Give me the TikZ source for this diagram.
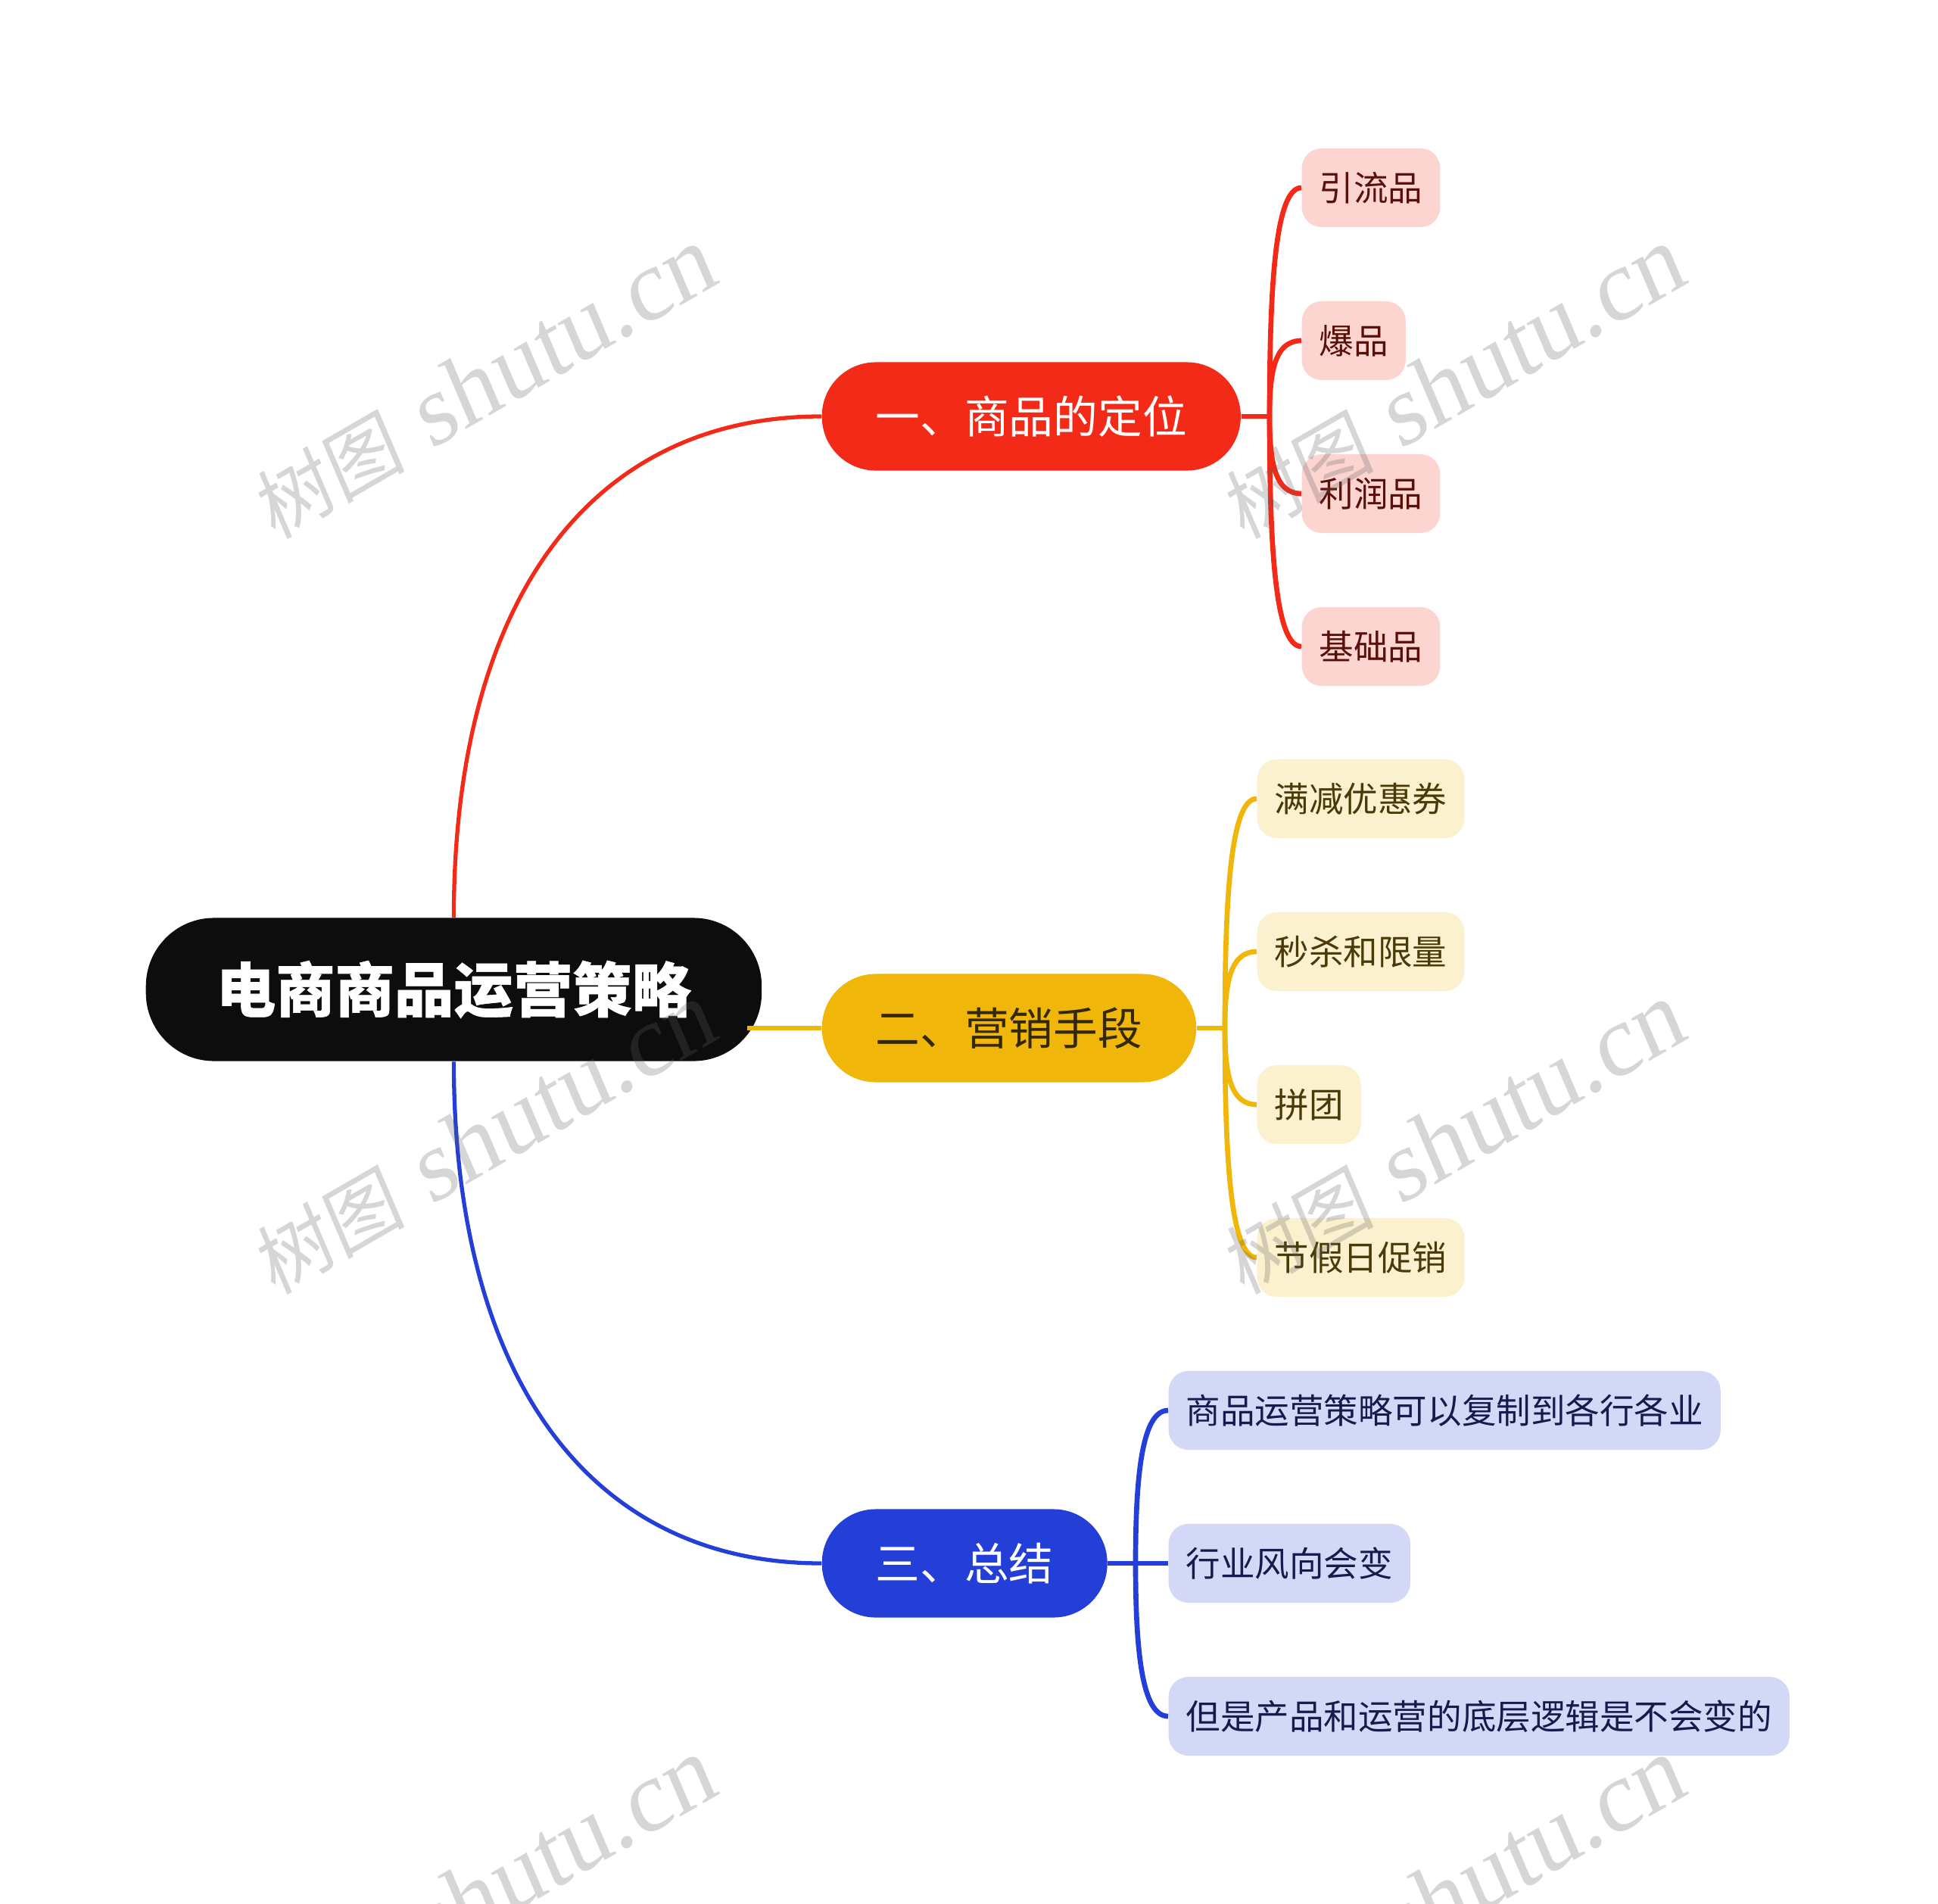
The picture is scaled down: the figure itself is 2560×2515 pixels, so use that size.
\documentclass[tikz,border=0pt]{standalone}
\usepackage{xcolor}
\usepackage{fontspec}
\setmainfont{Noto Sans CJK SC}
\newfontfamily\rootfont[BoldFeatures={FakeBold=0.7}]{Noto Sans CJK SC}
\newfontfamily\markcjk[FakeSlant=0.12]{Noto Sans CJK SC}
\newfontfamily\marklatin[FakeSlant=0.12]{Liberation Serif}
\newcommand{\markword}{{\markcjk\fontsize{29}{40}\selectfont 树图}\hspace{10pt}{\marklatin\fontsize{37.5}{40}\selectfont shutu.cn}}
\usetikzlibrary{calc}
\definecolor{rootink}{HTML}{0D0D0D}
\definecolor{redink}{HTML}{F22A17}
\definecolor{yellowink}{HTML}{F0B70A}
\definecolor{blueink}{HTML}{233FD8}
\definecolor{redleaffill}{HTML}{FCD5D1}
\definecolor{yellowleaffill}{HTML}{FCF1CE}
\definecolor{blueleaffill}{HTML}{D3D8F7}
\definecolor{redleafink}{HTML}{5A0F08}
\definecolor{yellowleafink}{HTML}{4A3A0A}
\definecolor{blueleafink}{HTML}{141C4D}
\definecolor{markink}{HTML}{606060}

\begin{document}
\begin{tikzpicture}[x=0.01cm,y=0.01cm]
                \tikzstyle{rootbox}=[anchor=west,rounded corners=.9cm,fill=rootink,text=white,inner xsep=0pt,inner ysep=0pt,minimum width=8.13cm,minimum height=1.89cm,font=\rootfont\fontsize{22.3}{26}\selectfont\bfseries]
                \tikzstyle{pillbox}=[anchor=west,rounded corners=.71cm,inner xsep=.71cm,inner ysep=0pt,minimum height=1.43cm,font=\fontsize{16.7}{20}\selectfont]
                \tikzstyle{leafbox}=[anchor=west,rounded corners=.26cm,inner xsep=.23cm,inner ysep=0pt,minimum height=1.04cm,font=\fontsize{12.95}{15}\selectfont]
                \tikzstyle{redleaf}=[leafbox,fill=redleaffill,text=redleafink]
                \tikzstyle{yellowleaf}=[leafbox,fill=yellowleaffill,text=yellowleafink]
                \tikzstyle{blueleaf}=[leafbox,fill=blueleaffill,text=blueleafink]
                \tikzstyle{trunkline}=[line width=1.5pt]
                \tikzstyle{stub}=[line width=1.9pt]
                \tikzstyle{trunkup}=[out=90,in=180,out distance=4.17cm,in distance=3.06cm]
                \tikzstyle{trunkdown}=[out=-90,in=180,out distance=4.17cm,in distance=3.06cm]
                \tikzstyle{twigup}=[out=90,in=180,out looseness=1.4,in distance=.35cm]
                \tikzstyle{twigdown}=[out=-90,in=180,out looseness=1.4,in distance=.35cm]
                \tikzstyle{watermark}=[rotate=30,text=markink,text opacity=.26]
                \clip (0,0) rectangle (2560,-2515);
                \node (root) [rootbox] at (192,-1307) {电商商品运营策略};
                \node (redpill) [pillbox,fill=redink,text=white] at (1085,-550) {一、商品的定位};
                \node (yellowpill) [pillbox,fill=yellowink,text=yellowleafink!70!black] at (1085,-1358) {二、营销手段};
                \node (bluepill) [pillbox,fill=blueink,text=white] at (1085,-2065) {三、总结};
                \node (yinliu) [redleaf] at (1719,-248) {引流品};
                \node (baopin) [redleaf] at (1719,-450) {爆品};
                \node (lirun) [redleaf] at (1719,-652) {利润品};
                \node (jichu) [redleaf] at (1719,-854) {基础品};
                \node (manjian) [yellowleaf] at (1660,-1055) {满减优惠券};
                \node (miaosha) [yellowleaf] at (1660,-1257) {秒杀和限量};
                \node (pintuan) [yellowleaf] at (1660,-1459) {拼团};
                \node (jieri) [yellowleaf] at (1660,-1661) {节假日促销};
                \node (fuzhi) [blueleaf] at (1543,-1863) {商品运营策略可以复制到各行各业};
                \node (fengxiang) [blueleaf] at (1543,-2065) {行业风向会变};
                \node (diceng) [blueleaf] at (1543,-2267) {但是产品和运营的底层逻辑是不会变的};
                \coordinate (rootport) at (987,-1358);
                \coordinate (redfork) at (1677,-550);
                \coordinate (yellowfork) at (1618,-1358);
                \coordinate (bluefork) at (1500,-2065);
                \draw [redink,trunkline] (root.north) to [trunkup] (redpill.west);
                \draw [yellowink,stub] (rootport) -- (yellowpill.west);
                \draw [blueink,trunkline] (root.south) to [trunkdown] (bluepill.west);
                \draw [redink,stub] (redpill.east) -- (redfork);
                \draw [redink,stub] (redfork) to [twigup] (yinliu.west);
                \draw [redink,stub] (redfork) to [twigup] (baopin.west);
                \draw [redink,stub] (redfork) to [twigdown] (lirun.west);
                \draw [redink,stub] (redfork) to [twigdown] (jichu.west);
                \draw [yellowink,stub] (yellowpill.east) -- (yellowfork);
                \draw [yellowink,stub] (yellowfork) to [twigup] (manjian.west);
                \draw [yellowink,stub] (yellowfork) to [twigup] (miaosha.west);
                \draw [yellowink,stub] (yellowfork) to [twigdown] (pintuan.west);
                \draw [yellowink,stub] (yellowfork) to [twigdown] (jieri.west);
                \draw [blueink,stub] (bluepill.east) -- (fengxiang.west);
                \draw [blueink,stub] (bluefork) to [twigup] (fuzhi.west);
                \draw [blueink,stub] (bluefork) to [twigdown] (diceng.west);
                \node (markone) [watermark] at (637,-507) {\markword};
                \node (marktwo) [watermark] at (1917,-507) {\markword};
                \node (markthree) [watermark] at (637,-1505) {\markword};
                \node (markfour) [watermark] at (1917,-1505) {\markword};
                \node (markfive) [watermark] at (637,-2503) {\markword};
                \node (marksix) [watermark] at (1917,-2503) {\markword};
            \end{tikzpicture}
\end{document}
